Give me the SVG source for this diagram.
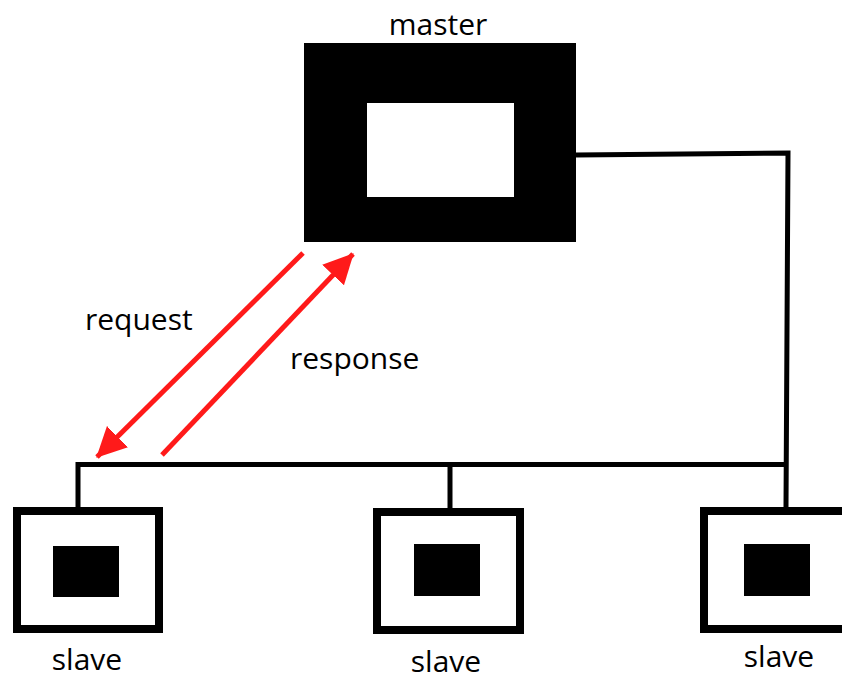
<svg xmlns="http://www.w3.org/2000/svg" width="842" height="675" viewBox="0 0 842 675">
  <style>
    .label { font-family: "Open Sans", "Noto Sans", sans-serif; font-size: 30px; fill: #000; }
    .wire { fill: none; stroke: #000; stroke-width: 5; stroke-linejoin: miter; }
    .frame { fill: #fff; stroke: #000; stroke-width: 8; }
    .core { fill: #000; }
    .msg { fill: none; stroke: #ff1a1a; stroke-width: 5; }
  </style>
  <defs>
    <marker id="arrowhead" markerUnits="userSpaceOnUse" markerWidth="30" markerHeight="30"
            viewBox="0 0 28 28" refX="27" refY="14" orient="auto">
      <path d="M0,0 L28,14 L0,28 z" fill="#ff1a1a"/>
    </marker>
  </defs>
  <rect width="842" height="675" fill="#fff"/>

  <!-- bus wiring -->
  <g id="connectors">
    <polyline class="wire" points="576,155 788,153 786,507"/>
    <polyline class="wire" points="78,507 78,464.5 786,464.5"/>
    <line class="wire" x1="450" y1="464.5" x2="450" y2="508"/>
    <line class="msg" x1="303" y1="253" x2="97" y2="457" marker-end="url(#arrowhead)"/>
    <line class="msg" x1="162" y1="455" x2="353" y2="254" marker-end="url(#arrowhead)"/>
  </g>

  <!-- message labels -->
  <text class="label" x="85" y="330">request</text>
  <text class="label" x="290" y="369">response</text>

  <g id="master">
    <rect x="304" y="43" width="272" height="199" fill="#000"/>
    <rect x="367" y="103" width="147" height="94" fill="#fff"/>
    <text class="label" x="438" y="35" text-anchor="middle">master</text>
  </g>

  <g id="slave1">
    <rect class="frame" x="17" y="511" width="142" height="118"/>
    <rect class="core" x="53" y="546" width="66" height="51"/>
    <text class="label" x="87" y="670" text-anchor="middle">slave</text>
  </g>

  <g id="slave2">
    <rect class="frame" x="377" y="512" width="143" height="118"/>
    <rect class="core" x="414" y="544" width="66" height="52"/>
    <text class="label" x="446" y="672" text-anchor="middle">slave</text>
  </g>

  <g id="slave3">
    <rect class="frame" x="704" y="511" width="150" height="118"/>
    <rect class="core" x="744" y="544" width="66" height="52"/>
    <text class="label" x="779" y="667" text-anchor="middle">slave</text>
  </g>
</svg>
